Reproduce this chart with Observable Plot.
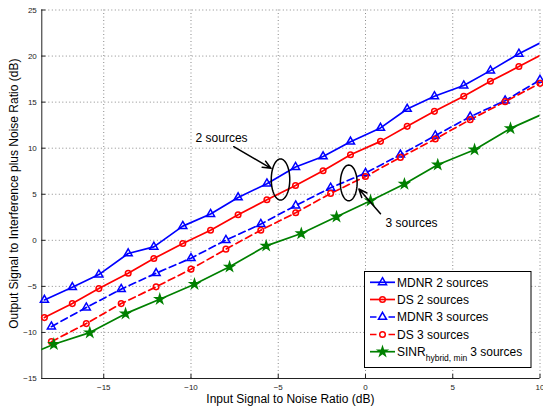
<!DOCTYPE html>
<html><head><meta charset="utf-8">
<script src="https://cdn.jsdelivr.net/npm/d3@7"></script>
<script src="https://cdn.jsdelivr.net/npm/@observablehq/plot@0.6"></script>
<style>
body{margin:0;background:#fff;}
#wrap{position:relative;width:543px;height:410px;font-family:"Liberation Sans",Arial,sans-serif;}
#wrap svg{position:absolute;left:0;top:0;}
</style></head><body><div id="wrap"></div>
<script>
// 2-source grid (last point lies just beyond the right edge)
const x2    = [-18.4, -16.8, -15.28, -13.6, -12.13, -10.47, -8.88, -7.3, -5.65, -4.01, -2.43, -0.86, 0.86, 2.39, 3.95, 5.63, 7.16, 8.79, 10.4];
const mdnr2 = [-6.47, -5.09, -3.72, -1.43, -0.71, 1.54, 2.85, 4.65, 6.15, 7.95, 9.1, 10.7, 12.2, 14.26, 15.63, 16.8, 18.42, 20.24, 21.8];
const ds2   = [-8.39, -6.87, -5.24, -3.57, -1.98, -0.35, 1.1, 2.77, 4.4, 5.95, 7.55, 9.29, 10.74, 12.37, 14.0, 15.63, 17.26, 18.86, 20.45];
// 3-source grid
const x3    = [-18, -16, -14, -12, -10, -8, -6, -4, -2, 0, 2, 4, 6, 8, 10];
const mdnr3 = [-9.37, -7.3, -5.3, -3.57, -1.94, 0.02, 1.76, 3.77, 5.7, 7.3, 9.29, 11.36, 13.42, 15.16, 17.4];
const ds3   = [-11.0, -9.04, -6.87, -5.05, -3.13, -0.96, 1.1, 2.99, 5.09, 6.93, 9.0, 11.0, 13.1, 15.05, 17.04];
// SINR hybrid,min (first and last points lie just outside the frame)
const xs    = [-19.9, -17.86, -15.8, -13.75, -11.79, -9.8, -7.79, -5.69, -3.68, -1.66, 0.29, 2.23, 4.14, 6.25, 8.31, 10.3];
const sinr  = [-12.9, -11.28, -10.02, -7.96, -6.39, -4.76, -2.88, -0.6, 0.74, 2.55, 4.3, 6.11, 8.2, 9.84, 12.15, 13.83];

const xTicks = [-15, -10, -5, 0, 5, 10];
const yTicks = [-15, -10, -5, 0, 5, 10, 15, 20, 25];
const xDomain = [-18.55, 10];
const yDomain = [-15, 25];

const xTitle = "Input Signal to Noise Ratio (dB)";
const yTitle = "Output Signal to Interference plus Noise Ratio (dB)";
const seriesNames = ["MDNR 2 sources", "DS 2 sources", "MDNR 3 sources", "DS 3 sources", "SINR"];
const labelTexts = ["2 sources", "3 sources"];
const labelX = [-9.74, 1.15];
const labelY = [11.11, 1.83];
const arrowX1 = [-7.55, 0.86], arrowY1 = [10.16, 2.88];
const arrowX2 = [-5.41, -0.38], arrowY2 = [7.81, 5.57];
const ellCx = [-4.87, -0.96], ellCy = [6.6, 6.23], ellRx = [0.53, 0.48], ellRy = [2.23, 1.94];

const rows = (xv, yv) => xv.map((x, i) => ({x, y: yv[i]}));
const inside = d => d.x >= xDomain[0] - 1e-9 && d.x <= xDomain[1] + 1e-9;

const series = [
  {name: seriesNames[0], data: rows(x2, mdnr2), color: "#0000ff", dash: null, symbol: "triangle", fill: "none", r: 3},
  {name: seriesNames[1], data: rows(x2, ds2), color: "#ff0000", dash: null, symbol: "circle", fill: "none", r: 2.8},
  {name: seriesNames[2], data: rows(x3, mdnr3), color: "#0000ff", dash: "7,4", symbol: "triangle", fill: "none", r: 3},
  {name: seriesNames[3], data: rows(x3, ds3), color: "#ff0000", dash: "7,4", symbol: "circle", fill: "none", r: 2.8},
  {name: seriesNames[4], data: rows(xs, sinr), color: "#008000", dash: null, symbol: "star", fill: "#008000", r: 2.8}
];

const ellipsePts = [];
ellCx.forEach((cx, k) => {
  d3.range(0, 361, 6).forEach(a => {
    const t = a * Math.PI / 180;
    ellipsePts.push({k, x: cx + ellRx[k] * Math.cos(t), y: ellCy[k] + ellRy[k] * Math.sin(t)});
  });
});
const arrows = arrowX1.map((v, i) => ({x1: v, y1: arrowY1[i], x2: arrowX2[i], y2: arrowY2[i]}));
const labels = labelTexts.map((t, i) => ({t, x: labelX[i], y: labelY[i]}));

const axisColor = "#222";
const marks = [
  Plot.ruleX(xTicks, {stroke: "#8a8a8a", strokeDasharray: "1,2.5", strokeWidth: 1}),
  Plot.ruleY(yTicks, {stroke: "#8a8a8a", strokeDasharray: "1,2.5", strokeWidth: 1}),
  Plot.ruleX([xDomain[0]], {stroke: axisColor}),
  Plot.ruleY([yDomain[0]], {stroke: axisColor}),
  Plot.ruleX(xTicks, {y1: yDomain[0], y2: yDomain[0] + 0.45, stroke: axisColor}),
  Plot.ruleY(yTicks, {x1: xDomain[0], x2: xDomain[0] + 0.23, stroke: axisColor}),
  Plot.axisX(xTicks, {tickSize: 0, tickPadding: 6, fontSize: 8, label: null, color: axisColor}),
  Plot.axisY(yTicks, {tickSize: 0, tickPadding: 5, fontSize: 8, label: null, color: axisColor}),
];
for (const s of series) {
  marks.push(Plot.line(s.data, {x: "x", y: "y", stroke: s.color, strokeWidth: 1.7, strokeDasharray: s.dash, clip: true}));
}
for (const s of series) {
  marks.push(Plot.dot(s.data.filter(inside), {x: "x", y: "y", symbol: () => s.symbol, r: s.r, stroke: s.color, strokeWidth: 1.5, fill: s.fill}));
}
marks.push(
  Plot.line(ellipsePts, {x: "x", y: "y", z: "k", stroke: "black", strokeWidth: 1.5}),
  Plot.arrow(arrows, {x1: "x1", y1: "y1", x2: "x2", y2: "y2", stroke: "black", strokeWidth: 1.5, headLength: 9, headAngle: 45}),
  Plot.text(labels, {x: "x", y: "y", text: "t", textAnchor: "start", fontSize: 12, fill: "black"})
);

const chart = Plot.plot({
  width: 543, height: 410,
  marginLeft: 41.3, marginRight: 3.5, marginTop: 9.5, marginBottom: 32,
  x: {domain: xDomain, axis: null},
  y: {domain: yDomain, axis: null},
  symbol: {type: "identity"},
  style: {fontFamily: '"Liberation Sans", Arial, sans-serif', fontSize: "8px", background: "white", color: axisColor},
  marks
});
const wrap = document.getElementById("wrap");
wrap.appendChild(chart);

// Overlay: axis titles and legend
const font = '"Liberation Sans", Arial, sans-serif';
const L = d3.select(wrap).append("svg").attr("width", 543).attr("height", 410).style("pointer-events", "none");
L.append("text").attr("x", 290.4).attr("y", 403).attr("text-anchor", "middle")
  .attr("font-family", font).attr("font-size", 12).attr("fill", "black").text(xTitle);
L.append("text").attr("transform", "translate(18,193.7) rotate(-90)").attr("text-anchor", "middle")
  .attr("font-family", font).attr("font-size", 12).attr("fill", "black").text(yTitle);

L.append("rect").attr("x", 364.5).attr("y", 271.5).attr("width", 166.5).attr("height", 96)
  .attr("fill", "white").attr("stroke", "black").attr("stroke-width", 1);
const rowY = [282.3, 299.5, 317, 334.5, 351.7];
series.forEach((s, i) => {
  const y = rowY[i];
  L.append("line").attr("x1", 370).attr("x2", 395).attr("y1", y).attr("y2", y)
    .attr("stroke", s.color).attr("stroke-width", 1.7)
    .attr("stroke-dasharray", s.dash ? "6.5,12" : null);
  const sym = s.symbol === "triangle" ? d3.symbolTriangle : s.symbol === "circle" ? d3.symbolCircle : d3.symbolStar;
  L.append("path").attr("d", d3.symbol(sym, Math.PI * s.r * s.r)())
    .attr("transform", `translate(382.5,${y})`)
    .attr("fill", s.fill).attr("stroke", s.color).attr("stroke-width", 1.5);
  const t = L.append("text").attr("x", 397).attr("y", y + 4.3)
    .attr("font-family", font).attr("font-size", 12).attr("fill", "black");
  if (i < 4) {
    t.text(s.name);
  } else {
    t.append("tspan").text("SINR");
    t.append("tspan").attr("font-size", 8.5).attr("dy", 5).text("hybrid, min");
    t.append("tspan").attr("dy", -5).attr("dx", 3).text("3 sources");
  }
});
</script>
</body></html>
